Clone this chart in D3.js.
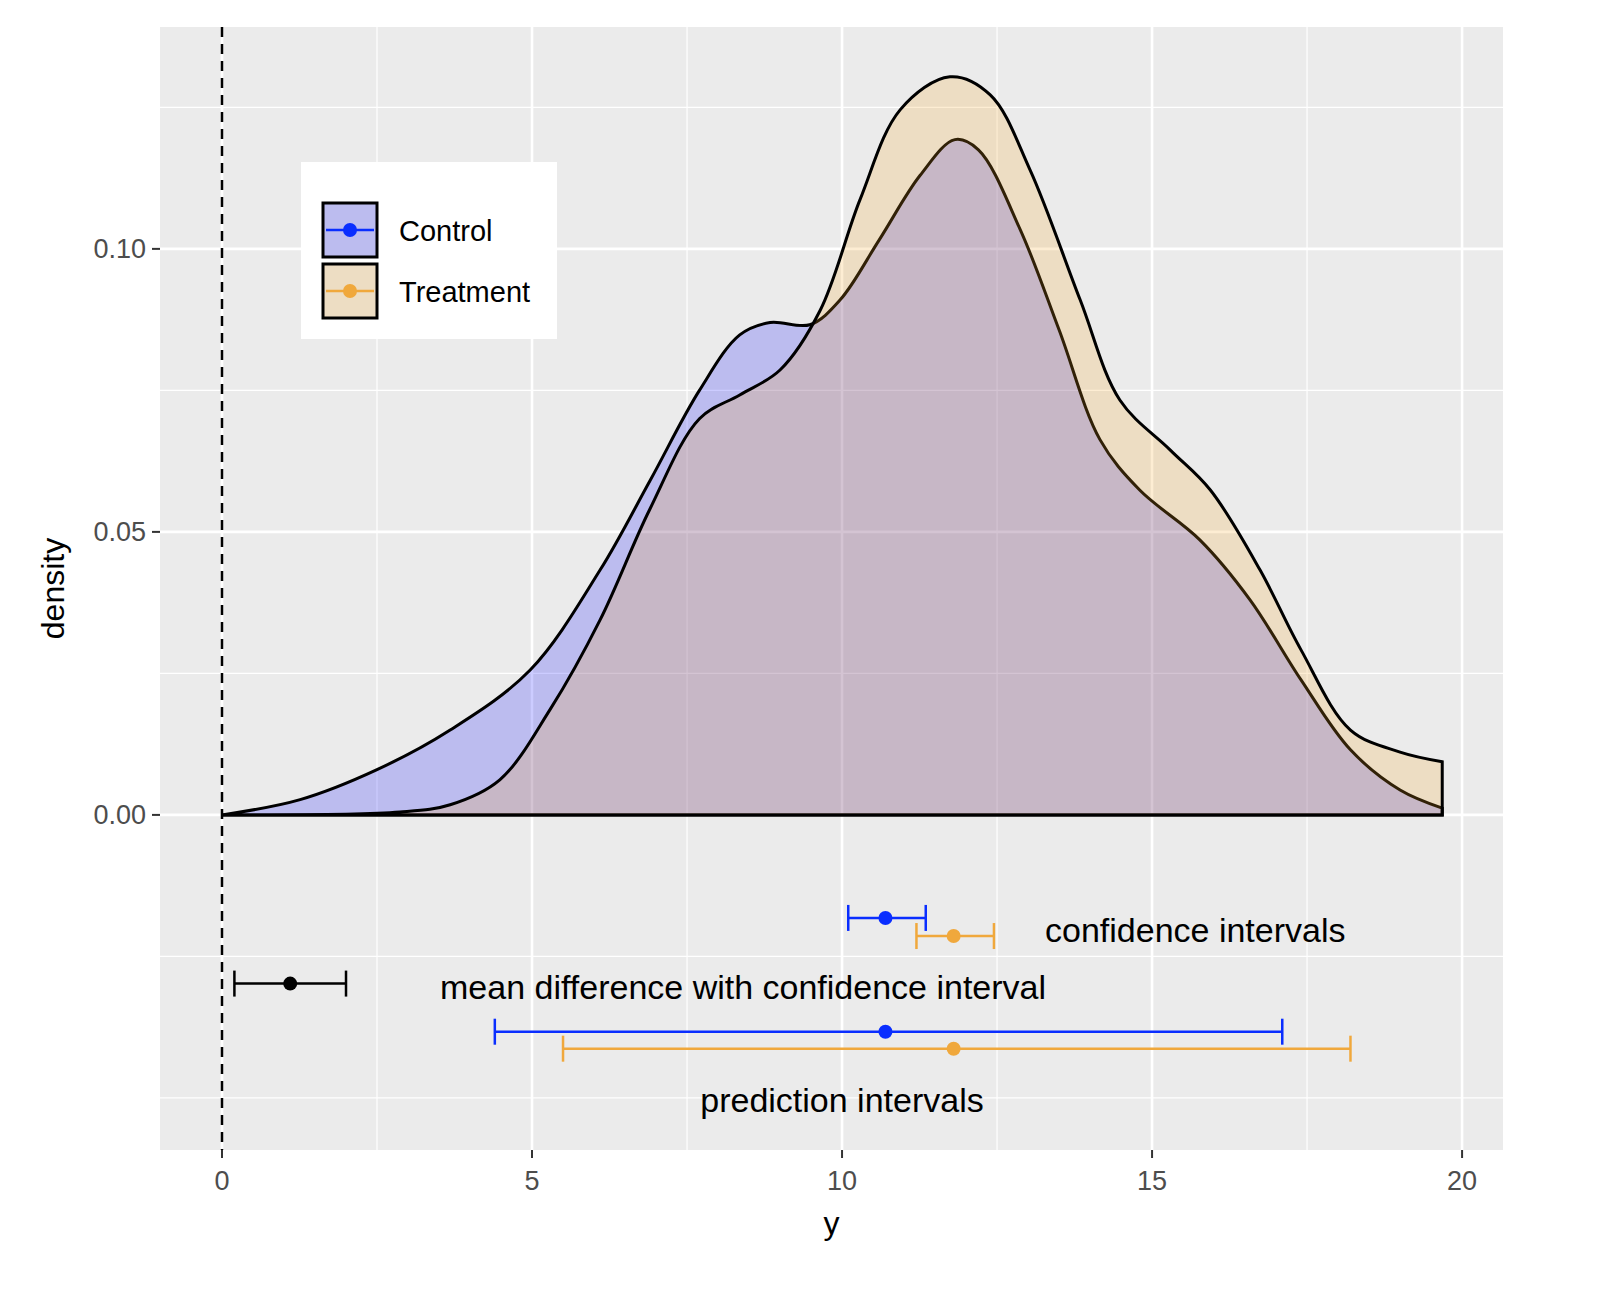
<html>
<head>
<script src="https://d3js.org/d3.v7.min.js"></script>
<style>body{margin:0;background:#fff}text{font-family:"Liberation Sans",Arial,sans-serif}</style>
</head>
<body>
<script>
var controlX = [0,1.26,2.5,3.68,4.97,6.1,6.9,7.7,8.35,8.84,9.48,9.97,10.6,11.26,11.82,12.2,12.87,13.5,14.16,14.8,15.77,16.58,17.4,18.2,19.0,19.68];
var controlY = [0,0.0027,0.008,0.015,0.0256,0.0433,0.059,0.075,0.0848,0.087,0.0866,0.091,0.1016,0.113,0.1193,0.1175,0.1035,0.0857,0.0663,0.0574,0.0486,0.038,0.0239,0.0115,0.0044,0.0012];
var treatX = [0,2.87,3.68,4.48,5.29,6.1,6.9,7.7,8.35,9.0,9.65,10.29,10.94,11.74,12.39,13.03,13.84,14.48,15.29,15.94,16.74,17.4,18.2,19.0,19.68];
var treatY = [0,0.0005,0.0018,0.0062,0.0186,0.0345,0.054,0.07,0.0742,0.0786,0.0892,0.1087,0.1246,0.1304,0.1272,0.114,0.091,0.0733,0.0645,0.0574,0.0433,0.0292,0.015,0.0111,0.0094];
// intervals: [y, lo, mid, hi, colour]
var intervals = [
  [-0.0182, 10.1, 10.7, 11.35, "#0a2eff"],
  [-0.0214, 11.2, 11.8, 12.45, "#f0a83c"],
  [-0.0298, 0.2, 1.1, 2.0, "#000"],
  [-0.0383, 4.4, 10.7, 17.1, "#0a2eff"],
  [-0.0413, 5.5, 11.8, 18.2, "#f0a83c"]
];
var xTicks = [0,5,10,15,20];
var yTicks = [0,0.05,0.10];

var L=160,R=1503,T=27,B=1150;
var svg=d3.select("body").append("svg").attr("width",1602).attr("height",1302);
var x=d3.scaleLinear().domain([-1,20.66]).range([L,R]);
var y=d3.scaleLinear().domain([-0.0592,0.1392]).range([B,T]);

svg.append("rect").attr("x",L).attr("y",T).attr("width",R-L).attr("height",B-T).attr("fill","#ebebeb");
var g=svg.append("g");
[2.5,7.5,12.5,17.5].forEach(v=>g.append("line").attr("x1",x(v)).attr("x2",x(v)).attr("y1",T).attr("y2",B).attr("stroke","#fff").attr("stroke-width",1.2));
[-0.05,-0.025,0.025,0.075,0.125].forEach(v=>g.append("line").attr("y1",y(v)).attr("y2",y(v)).attr("x1",L).attr("x2",R).attr("stroke","#fff").attr("stroke-width",1.2));
xTicks.forEach(v=>g.append("line").attr("x1",x(v)).attr("x2",x(v)).attr("y1",T).attr("y2",B).attr("stroke","#fff").attr("stroke-width",2.6));
yTicks.forEach(v=>g.append("line").attr("y1",y(v)).attr("y2",y(v)).attr("x1",L).attr("x2",R).attr("stroke","#fff").attr("stroke-width",2.6));

function area(xs,ys){
  var pts=xs.map((v,i)=>[v,ys[i]]);
  var line=d3.line().x(d=>x(d[0])).y(d=>y(d[1])).curve(d3.curveCatmullRom.alpha(0.5));
  return line(pts)+"L"+x(xs[xs.length-1])+","+y(0)+"Z";
}
svg.append("path").attr("d",area(controlX,controlY)).attr("fill","#0000ff").attr("fill-opacity",0.2).attr("stroke","#000").attr("stroke-width",3);
svg.append("path").attr("d",area(treatX,treatY)).attr("fill","#f5a623").attr("fill-opacity",0.2).attr("stroke","#000").attr("stroke-width",3);

svg.append("line").attr("x1",x(0)).attr("x2",x(0)).attr("y1",T).attr("y2",B).attr("stroke","#000").attr("stroke-width",2.5).attr("stroke-dasharray","10,7");

intervals.forEach(function(d){
  var gy=y(d[0]);
  svg.append("line").attr("x1",x(d[1])).attr("x2",x(d[3])).attr("y1",gy).attr("y2",gy).attr("stroke",d[4]).attr("stroke-width",2.5);
  [d[1],d[3]].forEach(v=>svg.append("line").attr("x1",x(v)).attr("x2",x(v)).attr("y1",gy-13).attr("y2",gy+13).attr("stroke",d[4]).attr("stroke-width",2.5));
  svg.append("circle").attr("cx",x(d[2])).attr("cy",gy).attr("r",7).attr("fill",d[4]);
});
svg.append("text").attr("x",1045).attr("y",942).attr("font-size",34).text("confidence intervals");
svg.append("text").attr("x",440).attr("y",999).attr("font-size",34).text("mean difference with confidence interval");
svg.append("text").attr("x",842).attr("y",1112).attr("font-size",34).attr("text-anchor","middle").text("prediction intervals");

xTicks.forEach(v=>{
  svg.append("line").attr("x1",x(v)).attr("x2",x(v)).attr("y1",B).attr("y2",B+8).attr("stroke","#333").attr("stroke-width",2);
  svg.append("text").attr("x",x(v)).attr("y",B+40).attr("font-size",27).attr("fill","#4d4d4d").attr("text-anchor","middle").text(v);
});
yTicks.forEach(v=>{
  svg.append("line").attr("x1",L-8).attr("x2",L).attr("y1",y(v)).attr("y2",y(v)).attr("stroke","#333").attr("stroke-width",2);
  svg.append("text").attr("x",L-14).attr("y",y(v)+9).attr("font-size",27).attr("fill","#4d4d4d").attr("text-anchor","end").text(d3.format(".2f")(v));
});
svg.append("text").attr("x",(L+R)/2).attr("y",1234).attr("font-size",32).attr("text-anchor","middle").text("y");
svg.append("text").attr("transform","translate(64,"+((T+B)/2)+") rotate(-90)").attr("font-size",32).attr("text-anchor","middle").text("density");

var lg=svg.append("g");
lg.append("rect").attr("x",301).attr("y",162).attr("width",256).attr("height",177).attr("fill","#fff");
[["Control","#0000ff","#0a2eff",202],["Treatment","#f5a623","#f0a83c",263]].forEach(function(k){
  lg.append("rect").attr("x",322).attr("y",k[3]).attr("width",56).attr("height",56).attr("fill","#ebebeb");
  lg.append("rect").attr("x",323).attr("y",k[3]+1).attr("width",54).attr("height",54).attr("fill",k[1]).attr("fill-opacity",0.2).attr("stroke","#000").attr("stroke-width",3);
  lg.append("line").attr("x1",326).attr("x2",374).attr("y1",k[3]+28).attr("y2",k[3]+28).attr("stroke",k[2]).attr("stroke-width",2.5);
  lg.append("circle").attr("cx",350).attr("cy",k[3]+28).attr("r",7).attr("fill",k[2]);
  lg.append("text").attr("x",399).attr("y",k[3]+39).attr("font-size",29).text(k[0]);
});
</script>
</body>
</html>
